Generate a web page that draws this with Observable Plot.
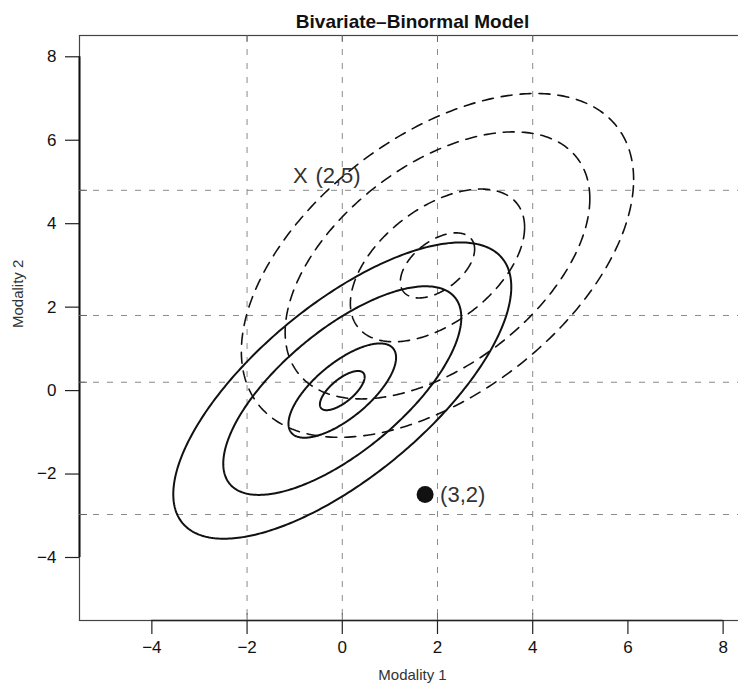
<!DOCTYPE html>
<html><head><meta charset="utf-8">
<script src="https://cdn.jsdelivr.net/npm/d3@7"></script>
<script src="https://cdn.jsdelivr.net/npm/@observablehq/plot@0.6"></script>
<style>
html,body{margin:0;padding:0;background:#fff;overflow:hidden;}
#chart svg{display:block;font-family:"Liberation Sans",Arial,Helvetica,sans-serif;}
</style>
</head><body><div id="chart"></div>
<script>
// ---- data ----
const title = "Bivariate\u2013Binormal Model";
const xLabel = "Modality 1";
const yLabel = "Modality 2";
const xTicks = [-4, -2, 0, 2, 4, 6, 8];
const yTicks = [-4, -2, 0, 2, 4, 6, 8];
const gridX = [-2, 0, 2, 4];
const gridY = [4.8, 1.8, 0.2, -2.97];
// solid contours (centered distribution)
const solidCenterX = 0, solidCenterY = 0, solidRho = 0.7;
const solidRadii = [0.47, 1.13, 2.5, 3.55];
// dashed contours (shifted distribution)
const dashedCenterX = 2, dashedCenterY = 3, dashedRho = 0.5;
const dashedRadii = [0.78, 1.83, 3.2, 4.12];
// annotated points
const crossX = [-0.88], crossY = [5.15], crossLabel = ["(2,5)"];
const dotX = [1.74], dotY = [-2.49], dotLabel = ["(3,2)"];

// ---- build contour tables from parameters ----
function contour(cx, cy, rho, radii, group) {
  const out = [];
  const s = Math.sqrt(1 - rho * rho);
  radii.forEach((r, k) => {
    for (let i = 0; i < 360; i++) {
      const t = (i / 360) * 2 * Math.PI;
      out.push({x: cx + r * Math.cos(t), y: cy + r * (rho * Math.cos(t) + s * Math.sin(t)), g: group + k});
    }
  });
  return out;
}
const solid = contour(solidCenterX, solidCenterY, solidRho, solidRadii, "s");
const dashed = contour(dashedCenterX, dashedCenterY, dashedRho, dashedRadii, "d");
const xDomain = [-5.52, 8.47];
const yDomain = [-5.51, 8.51];

const W = 738, H = 691, mT = 35, mL = 79, mR = -7, mB = 71;
const unitX = (xDomain[1] - xDomain[0]) / (W - mR - mL);   // data units per pixel
const unitY = (yDomain[1] - yDomain[0]) / (H - mB - mT);
const inner = 7; // inward tick length (px)

const chart = Plot.plot({
  width: W,
  height: H,
  marginTop: mT,
  marginLeft: mL,
  marginRight: mR,
  marginBottom: mB,
  style: {fontFamily: "Liberation Sans, Arial, sans-serif", background: "#fff"},
  x: {domain: xDomain},
  y: {domain: yDomain},
  marks: [
    Plot.ruleX(gridX, {stroke: "#8a8a8a", strokeWidth: 1, strokeDasharray: "6,8"}),
    Plot.ruleY(gridY, {stroke: "#8a8a8a", strokeWidth: 1, strokeDasharray: "6,8"}),
    Plot.line(dashed, {x: "x", y: "y", z: "g", curve: "linear-closed", stroke: "#111", strokeWidth: 1.6, strokeDasharray: "11,8"}),
    Plot.line(solid, {x: "x", y: "y", z: "g", curve: "linear-closed", stroke: "#111", strokeWidth: 2}),
    Plot.frame({stroke: "#444", strokeWidth: 1.2}),
    Plot.ruleX([xDomain[0]], {y1: yTicks[0], y2: yTicks[yTicks.length - 1], stroke: "#111", strokeWidth: 2}),
    Plot.ruleY([yDomain[0]], {x1: xTicks[0], x2: xTicks[xTicks.length - 1], stroke: "#222", strokeWidth: 1.5}),
    // inward ticks at the reference lines
    Plot.ruleX(gridX, {y1: yDomain[0], y2: yDomain[0] + inner * unitY, stroke: "#666", strokeWidth: 1}),
    Plot.ruleX(gridX, {y1: yDomain[1], y2: yDomain[1] - inner * unitY, stroke: "#666", strokeWidth: 1}),
    Plot.ruleY(gridY, {x1: xDomain[0], x2: xDomain[0] + (inner + 1) * unitX, stroke: "#666", strokeWidth: 1}),
    Plot.axisX(xTicks, {anchor: "bottom", tickSize: 14, tickPadding: 6, fontSize: 17, label: null, stroke: "#222", strokeWidth: 1.2, fill: "#111"}),
    Plot.axisY(yTicks, {anchor: "left", tickSize: 14, tickPadding: 9, fontSize: 17, label: null, stroke: "#222", strokeWidth: 1.2, fill: "#111"}),
    Plot.text([xLabel], {frameAnchor: "bottom", dy: 59, fontSize: 15, fill: "#333"}),
    Plot.text([yLabel], {frameAnchor: "left", dx: -61, rotate: -90, fontSize: 15, fill: "#333"}),
    Plot.text([title], {frameAnchor: "top", dy: -21, fontSize: 19, fontWeight: "bold", fill: "#111"}),
    // annotated points
    Plot.text(crossX, {x: d => d, y: (d, i) => crossY[i], text: () => "X", fontSize: 22, fill: "#333"}),
    Plot.text(crossX, {x: d => d, y: (d, i) => crossY[i], text: (d, i) => crossLabel[i], textAnchor: "start", dx: 15, fontSize: 22, fill: "#333"}),
    Plot.dot(dotX, {x: d => d, y: (d, i) => dotY[i], r: 8.5, fill: "#111", stroke: "none"}),
    Plot.text(dotX, {x: d => d, y: (d, i) => dotY[i], text: (d, i) => dotLabel[i], textAnchor: "start", dx: 15, fontSize: 22, fill: "#333"})
  ]
});
document.getElementById("chart").appendChild(chart);
</script>
</body></html>
